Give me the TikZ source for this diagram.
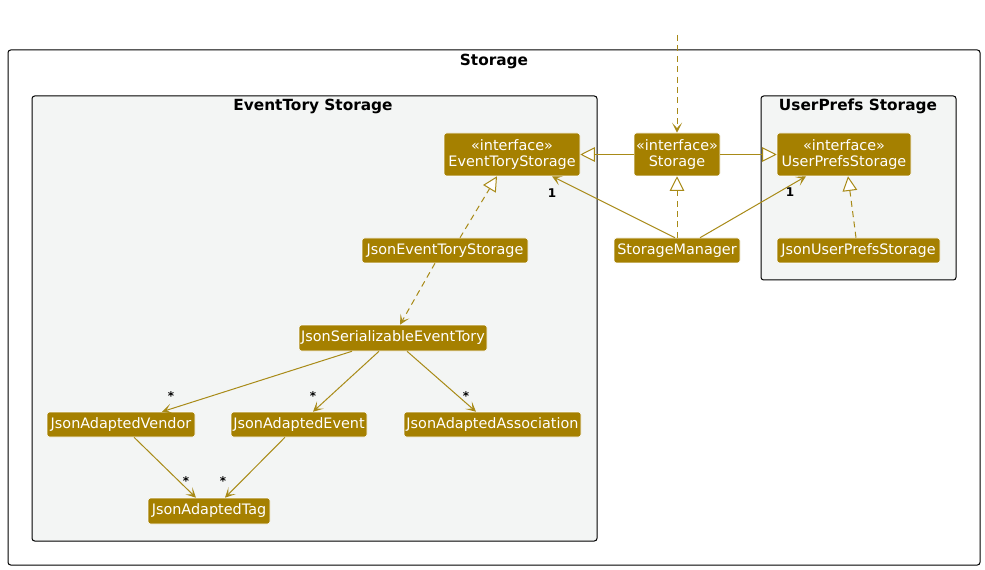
\documentclass[tikz,border=0pt]{standalone}
\usepackage{fontspec}
\setmainfont{DejaVu Sans}
\usetikzlibrary{arrows.meta,calc}
\definecolor{nodefill}{HTML}{A58000}
\definecolor{edgecol}{HTML}{A88A17}
\definecolor{pkgbg}{HTML}{F3F5F4}
\tikzset{
  cls/.style={draw=white, line width=0.4pt, fill=nodefill, text=white, rounded corners=2pt,
    inner sep=0pt, align=center, font=\fontsize{10.8pt}{12.5pt}\selectfont},
  pkg/.style={draw=black, line width=0.75pt, rounded corners=2pt},
  ptitle/.style={font=\bfseries\fontsize{11.5pt}{13pt}\selectfont},
  edge/.style={draw=edgecol, line width=0.75pt},
  dashedline/.style={dash pattern=on 4.5pt off 3.3pt},
  assoc/.style={-{Stealth[length=7.5pt,width=7.5pt,inset=4pt]}},
  realize/.style={-{Triangle[open,length=11pt,width=11pt,fill=white]}},
  mult/.style={font=\bfseries\fontsize{9pt}{10pt}\selectfont, inner sep=0pt}
}
\begin{document}
\begin{tikzpicture}[x=0.75pt,y=-0.75pt]
\useasboundingbox[fill=white] (0,0) rectangle (985,570);
% packages
\draw[pkg, fill=white] (8,50) rectangle (980,565);
\node[ptitle] (tstor) at (494,61) {Storage};
\draw[pkg, fill=pkgbg] (32,96) rectangle (597,541);
\node[ptitle] (tevt) at (313,106) {EventTory Storage};
\draw[pkg, fill=pkgbg] (761,96) rectangle (956,280);
\node[ptitle] (tup) at (858,106) {UserPrefs Storage};
% nodes
\node[cls, minimum width=136*0.75pt, minimum height=43*0.75pt] (ets) at (512,154.5) {«interface»\\EventToryStorage};
\node[cls, minimum width=86*0.75pt, minimum height=43*0.75pt] (sto) at (677,154.5) {«interface»\\Storage};
\node[cls, minimum width=134*0.75pt, minimum height=43*0.75pt] (ups) at (844,154.5) {«interface»\\UserPrefsStorage};
\node[cls, minimum width=166*0.75pt, minimum height=25*0.75pt] (jets) at (445,250.5) {JsonEventToryStorage};
\node[cls, minimum width=126*0.75pt, minimum height=25*0.75pt] (sm) at (677,250.5) {StorageManager};
\node[cls, minimum width=163*0.75pt, minimum height=25*0.75pt] (jups) at (858.5,250.5) {JsonUserPrefsStorage};
\node[cls, minimum width=188*0.75pt, minimum height=26*0.75pt] (jset) at (393,338) {JsonSerializableEventTory};
\node[cls, minimum width=148*0.75pt, minimum height=25*0.75pt] (jav) at (121,424.5) {JsonAdaptedVendor};
\node[cls, minimum width=136*0.75pt, minimum height=25*0.75pt] (jae) at (299,424.5) {JsonAdaptedEvent};
\node[cls, minimum width=177*0.75pt, minimum height=25*0.75pt] (jaa) at (492.5,424.5) {JsonAdaptedAssociation};
\node[cls, minimum width=122*0.75pt, minimum height=26*0.75pt] (jat) at (209,511) {JsonAdaptedTag};
\coordinate (top) at (677,35);
% edges
\draw[edge, dashedline, assoc] (top) -- (sto.north);
\draw[edge, realize] (sto.west) -- (ets.east);
\draw[edge, realize] (sto.east) -- (ups.west);
\draw[edge, dashedline, realize] (sm.north) -- (sto.south);
\draw[edge, assoc] ($(sm.north)+(-2,0)$) -- ($(ets.south)+(40,0)$);
\node[mult] (m1) at (552,193) {1};
\draw[edge, assoc] ($(sm.north)+(23,0)$) -- ($(ups.south)+(-38,0)$);
\node[mult] (m2) at (790,192) {1};
\draw[edge, dashedline, realize] ($(jets.north)+(15,0)$) -- ($(ets.south)+(-15,0)$);
\draw[edge, dashedline, assoc] ($(jets.south)+(-10,0)$) -- ($(jset.north)+(7,0)$);
\draw[edge, dashedline, realize] ($(jups.north)+(-2.5,0)$) -- ($(ups.south)+(4,0)$);
\draw[edge, assoc] ($(jset.south)+(-41,0)$) -- ($(jav.north)+(41,0)$);
\node[mult] (m3) at (171,396) {*};
\draw[edge, assoc] ($(jset.south)+(-14,0)$) -- ($(jae.north)+(14,0)$);
\node[mult] (m4) at (313,396) {*};
\draw[edge, assoc] ($(jset.south)+(14,0)$) -- ($(jaa.north)+(-16.5,0)$);
\node[mult] (m5) at (466,396) {*};
\draw[edge, assoc] ($(jav.south)+(13,0)$) -- ($(jat.north)+(-13,0)$);
\node[mult] (m6) at (186,481) {*};
\draw[edge, assoc] ($(jae.south)+(-14,0)$) -- ($(jat.north)+(16,0)$);
\node[mult] (m7) at (223,481) {*};
\end{tikzpicture}
\end{document}
